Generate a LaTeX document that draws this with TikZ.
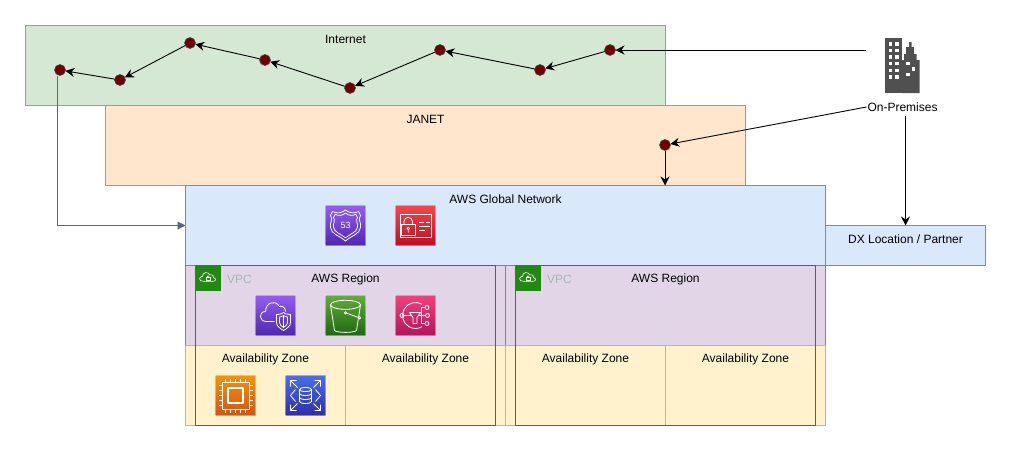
\documentclass[tikz,border=0pt]{standalone}
\usepackage{fontspec}
\setmainfont{Liberation Sans}
\usetikzlibrary{arrows.meta,positioning}
\definecolor{inetfill}{HTML}{D5E8D4}
\definecolor{inetline}{HTML}{82B366}
\definecolor{janetfill}{HTML}{FFE6CC}
\definecolor{janetline}{HTML}{D79B00}
\definecolor{awsfill}{HTML}{DAE8FC}
\definecolor{awsline}{HTML}{6C8EBF}
\definecolor{regfill}{HTML}{E1D5E7}
\definecolor{regline}{HTML}{9673A6}
\definecolor{azfill}{HTML}{FFF2CC}
\definecolor{azline}{HTML}{D6B656}
\definecolor{vpcgreen}{HTML}{248814}
\definecolor{vpcgrey}{HTML}{AAB7B8}
\definecolor{hopred}{HTML}{6F0000}
\definecolor{slate}{HTML}{596780}
\definecolor{bldg}{HTML}{505050}
\newcommand{\vpcglyph}[1]{%
    \begin{scope}[shift={(#1)}, glyph, scale=0.55, line width=0.6pt]
        \draw (-9,6) .. controls (-17,6) and (-17,-3) .. (-10,-3) .. controls (-10,-11) and (0,-12) .. (3,-6) .. controls (8,-8) and (11,-3) .. (10,-1) .. controls (16,1) and (14,6) .. (9,6) -- cycle;
        \draw (-3.5,-0.5) rectangle (3.5,4.5);
        \draw (-2,-0.5) -- (-2,-2) arc[start angle=180, end angle=360, radius=2] -- (2,-0.5);
    \end{scope}}
\begin{document}
\begin{tikzpicture}[
    x=1pt, y=-1pt, line width=1pt, font=\fontsize{12}{14}\selectfont,
    every node/.style={inner sep=0pt, outer sep=0pt},
    inet/.style={draw=inetline, fill=inetfill, minimum width=640pt, minimum height=80pt},
    janet/.style={draw=janetline, fill=janetfill, minimum width=640pt, minimum height=80pt},
    awsnet/.style={draw=awsline, fill=awsfill, minimum width=640pt, minimum height=80pt},
    dxloc/.style={draw=awsline, fill=awsfill, minimum width=160pt, minimum height=40pt},
    region/.style={draw=regline, fill=regfill, minimum width=320pt, minimum height=80pt},
    azone/.style={draw=azline, fill=azfill, minimum width=160pt, minimum height=80pt},
    vpc/.style={draw=vpcgreen, minimum width=300pt, minimum height=160pt},
    vpctag/.style={fill=vpcgreen, minimum size=25pt},
    icon/.style={draw=white, draw opacity=0.4, minimum size=40pt},
    glyph/.style={draw=white, line width=0.8pt, line join=round},
    hop/.style={circle, draw=black!70, fill=hopred, minimum size=11pt, line width=0.6pt},
    arrow/.style={-{Stealth[length=9pt, width=9pt, inset=3pt]}, line width=0.9pt},
    grey arrow/.style={arrow, draw=slate, -{Stealth[length=8pt, width=8pt, inset=0pt]}, color=slate}
]
    \useasboundingbox (0,0) rectangle (1011,451);

    % network layers
    \node[inet] (internet) at (345.5,65.5) {};
    \node[janet] (janetbox) at (425.5,145.5) {};
    \node[awsnet] (global) at (505.5,225.5) {};
    \node[dxloc] (dx) at (905.5,245.5) {};
    \node[region] (reg1) at (345.5,305.5) {};
    \node[region] (reg2) at (665.5,305.5) {};
    \node[azone] (az1) at (265.5,385.5) {};
    \node[azone] (az2) at (425.5,385.5) {};
    \node[azone] (az3) at (585.5,385.5) {};
    \node[azone] (az4) at (745.5,385.5) {};
    \node[vpc] (vpc1) at (345.5,345.5) {};
    \node[vpc] (vpc2) at (665.5,345.5) {};
    \node[vpctag] (tag1) at (208,278) {};
    \node[vpctag] (tag2) at (528,278) {};
    \vpcglyph{tag1}
    \vpcglyph{tag2}

    % labels
    \node (internetlbl) at (345.5,39) {Internet};
    \node (janetlbl) at (425.5,119) {JANET};
    \node (globallbl) at (505.5,199) {AWS Global Network};
    \node (dxlbl) at (905.5,239) {DX Location / Partner};
    \node (reg1lbl) at (345.5,279) {AWS Region};
    \node (reg2lbl) at (665.5,279) {AWS Region};
    \node[text=vpcgrey] (vpc1lbl) at (239.5,279) {VPC};
    \node[text=vpcgrey] (vpc2lbl) at (559.5,279) {VPC};
    \node (az1lbl) at (265.5,359) {Availability Zone};
    \node (az2lbl) at (425.5,359) {Availability Zone};
    \node (az3lbl) at (585.5,359) {Availability Zone};
    \node (az4lbl) at (745.5,359) {Availability Zone};
    \node (onprem) at (902.5,107) [minimum width=72pt, minimum height=18pt] {On-Premises};

    % service icons
    \node[icon, top color={rgb,255:red,148;green,94;blue,240}, bottom color={rgb,255:red,78;green,39;blue,175}] (r53) at (345.5,225.5) {};
    \node[icon, top color={rgb,255:red,245;green,70;blue,75}, bottom color={rgb,255:red,190;green,15;blue,35}] (secrets) at (415.5,225.5) {};
    \node[icon, top color={rgb,255:red,148;green,94;blue,240}, bottom color={rgb,255:red,78;green,39;blue,175}] (shield) at (275.5,315.5) {};
    \node[icon, top color={rgb,255:red,100;green,170;blue,60}, bottom color={rgb,255:red,30;green,105;blue,15}] (bucket) at (345.5,315.5) {};
    \node[icon, top color={rgb,255:red,240;green,65;blue,125}, bottom color={rgb,255:red,180;green,20;blue,90}] (sns) at (415.5,315.5) {};
    \node[icon, top color={rgb,255:red,248;green,145;blue,10}, bottom color={rgb,255:red,205;green,85;blue,25}] (ec2) at (235.5,395.5) {};
    \node[icon, top color={rgb,255:red,75;green,110;blue,235}, bottom color={rgb,255:red,45;green,45;blue,170}] (rds) at (305.5,395.5) {};

    \begin{scope}[shift={(r53)}, glyph]
        \foreach \s in {1,0.8} {
            \draw[scale=\s] (0,-15.5) .. controls (-4,-12) and (-9,-12) .. (-13,-14) -- (-15,-10) .. controls (-12,-6) and (-16,-3) .. (-15,2) .. controls (-14,9) and (-6,10) .. (0,15.5) .. controls (6,10) and (14,9) .. (15,2) .. controls (16,-3) and (12,-6) .. (15,-10) -- (13,-14) .. controls (9,-12) and (4,-12) .. (0,-15.5) -- cycle;
        }
    \end{scope}
    \node[text=white, font=\fontsize{9}{9}\selectfont] (r53lbl) at (345.5,225.5) {53};

    \begin{scope}[shift={(secrets)}, glyph]
        \draw (-15.5,-11.5) rectangle (16,12);
        \draw (-14,-1.3) rectangle (-0.5,9.5);
        \draw (-11.5,-1.3) -- (-11.5,-4) arc[start angle=180, end angle=360, radius=4.2] -- (-3.1,-1.3);
        \draw (-7.2,3) circle (1.3) (-7.2,4.3) -- (-7.2,7);
        \draw (3,-3) -- (8,-3) (10,-3) -- (14,-3) (3,1) -- (14,1) (3,5) -- (9,5);
    \end{scope}

    \begin{scope}[shift={(shield)}, glyph]
        \draw (-1,6) -- (-9,6) .. controls (-17,6) and (-17,-4) .. (-10,-4) .. controls (-10,-12) and (-1,-17) .. (4,-9) .. controls (7,-10) and (10,-8) .. (10,-4);
        \draw (8,-3) .. controls (5,-1) and (3,-1) .. (1,-1) -- (1,7) .. controls (1,11) and (5,13) .. (8,15) .. controls (11,13) and (15,11) .. (15,7) -- (15,-1) .. controls (13,-1) and (11,-1) .. (8,-3) -- cycle;
        \draw (8,0) .. controls (6.5,1) and (5,1.5) .. (4,1.5) -- (4,7) .. controls (4,9) and (6,11) .. (8,12) .. controls (10,11) and (12,9) .. (12,7) -- (12,1.5) .. controls (11,1.5) and (9.5,1) .. (8,0) -- cycle;
        \draw (8,0) -- (8,12);
    \end{scope}

    \begin{scope}[shift={(bucket)}, glyph]
        \draw (0,-10.7) ellipse [x radius=15, y radius=4.5];
        \draw (-15,-10.7) -- (-11,15) .. controls (-8,17.5) and (8,17.5) .. (11,15) -- (15,-10.7);
        \draw (0,-2.7) -- (13,2);
        \draw (0,-2.7) circle (1.2) (14,2.3) circle (1.2);
    \end{scope}

    \begin{scope}[shift={(sns)}, glyph]
        \draw (6.5,-11.3) arc[start angle=-60, end angle=-300, radius=13];
        \draw (-13.5,0) circle (2) (11.5,-8) circle (2) (12,0) circle (2) (11.5,8) circle (2);
        \draw (-6,-3) -- (5,-3) -- (1.5,2) -- (1.5,8) -- (-2.5,8) -- (-2.5,2) -- cycle;
        \draw (-11.5,0) -- (-4,0) (3,0) -- (10,0) (6,0) -- (6,-8) -- (9.5,-8) (6,0) -- (6,8) -- (9.5,8);
    \end{scope}

    \begin{scope}[shift={(ec2)}, glyph]
        \draw (-13.5,-13.5) rectangle (13.5,13.5);
        \draw[line width=1.2pt] (-7.5,-7.5) rectangle (7.5,7.5);
        \foreach \p in {-10,-5,0,5,10} {
            \draw (\p,-13.5) -- (\p,-17) (\p,13.5) -- (\p,17) (-13.5,\p) -- (-17,\p) (13.5,\p) -- (17,\p);
        }
    \end{scope}

    \begin{scope}[shift={(rds)}, glyph]
        \foreach \a/\b in {-1/-1,1/-1,-1/1,1/1} {
            \draw (\a*9,\b*15) -- (\a*15,\b*15) -- (\a*15,\b*9) (\a*15,\b*15) -- (\a*8,\b*8);
        }
        \draw (-6,-6) -- (-6,6) arc[start angle=180, end angle=0, x radius=6, y radius=2] -- (6,-6);
        \draw (0,-6) ellipse [x radius=6, y radius=2];
        \draw (-6,-2) arc[start angle=180, end angle=0, x radius=6, y radius=2];
        \draw (-6,2) arc[start angle=180, end angle=0, x radius=6, y radius=2];
        \draw (-10,-6) .. controls (-13,-3) .. (-15,0) .. controls (-13,3) .. (-10,6);
        \draw (10,-6) .. controls (13,-3) .. (15,0) .. controls (13,3) .. (10,6);
    \end{scope}

    % on-premises building
    \node (building) at (902.5,65.5) [minimum width=35pt, minimum height=55pt] {};
    \fill[bldg] (885,38) rectangle (902,93);
    \fill[bldg] (902,93) -- (902,60) -- (904,60) -- (904,54) -- (906,54) -- (906,47) -- (909,47) -- (909,42) -- (911.7,42) -- (911.7,47) -- (914,47) -- (914,54) -- (916.5,54) -- (916.5,60) -- (919.5,60) -- (919.5,93) -- cycle;
    \foreach \ypos in {44,50.3,57,63.7,70.3,77} {
        \fill[white] (889,\ypos-1.7) rectangle +(3.4,3.4);
        \fill[white] (895.3,\ypos-1.7) rectangle +(3.4,3.4);
    }
    \fill[white] (906.3,61.6) rectangle +(3.4,3.4);
    \fill[white] (912,67.3) rectangle +(3.4,3.4);
    \fill[white] (906.3,73) rectangle +(3.4,3.4);

    % internet hops
    \coordinate (bldgout) at (865.5,50);
    \node[hop] (h1) at (60,70) {};
    \node[hop] (h2) at (120,80) {};
    \node[hop] (h3) at (190,43) {};
    \node[hop] (h4) at (265,60) {};
    \node[hop] (h5) at (350,88) {};
    \node[hop] (h6) at (440,50) {};
    \node[hop] (h7) at (540,70) {};
    \node[hop] (h8) at (610,50) {};
    \node[hop] (j1) at (665,145) {};

    \draw[grey arrow] ([xshift=-3pt]h1.south) |- (global.west);
    \draw[arrow] (bldgout) -- (h8);
    \draw[arrow] (h8) -- (h7);
    \draw[arrow] (h7) -- (h6);
    \draw[arrow] (h6) -- (h5);
    \draw[arrow] (h5) -- (h4);
    \draw[arrow] (h4) -- (h3);
    \draw[arrow] (h3) -- (h2);
    \draw[arrow] (h2) -- (h1);
    \draw[arrow] (onprem.west) -- (j1);
    \draw[arrow] (j1) -- (j1 |- global.north);
    \draw[arrow] (dx.north |- onprem.south) -- (dx.north);
\end{tikzpicture}
\end{document}
